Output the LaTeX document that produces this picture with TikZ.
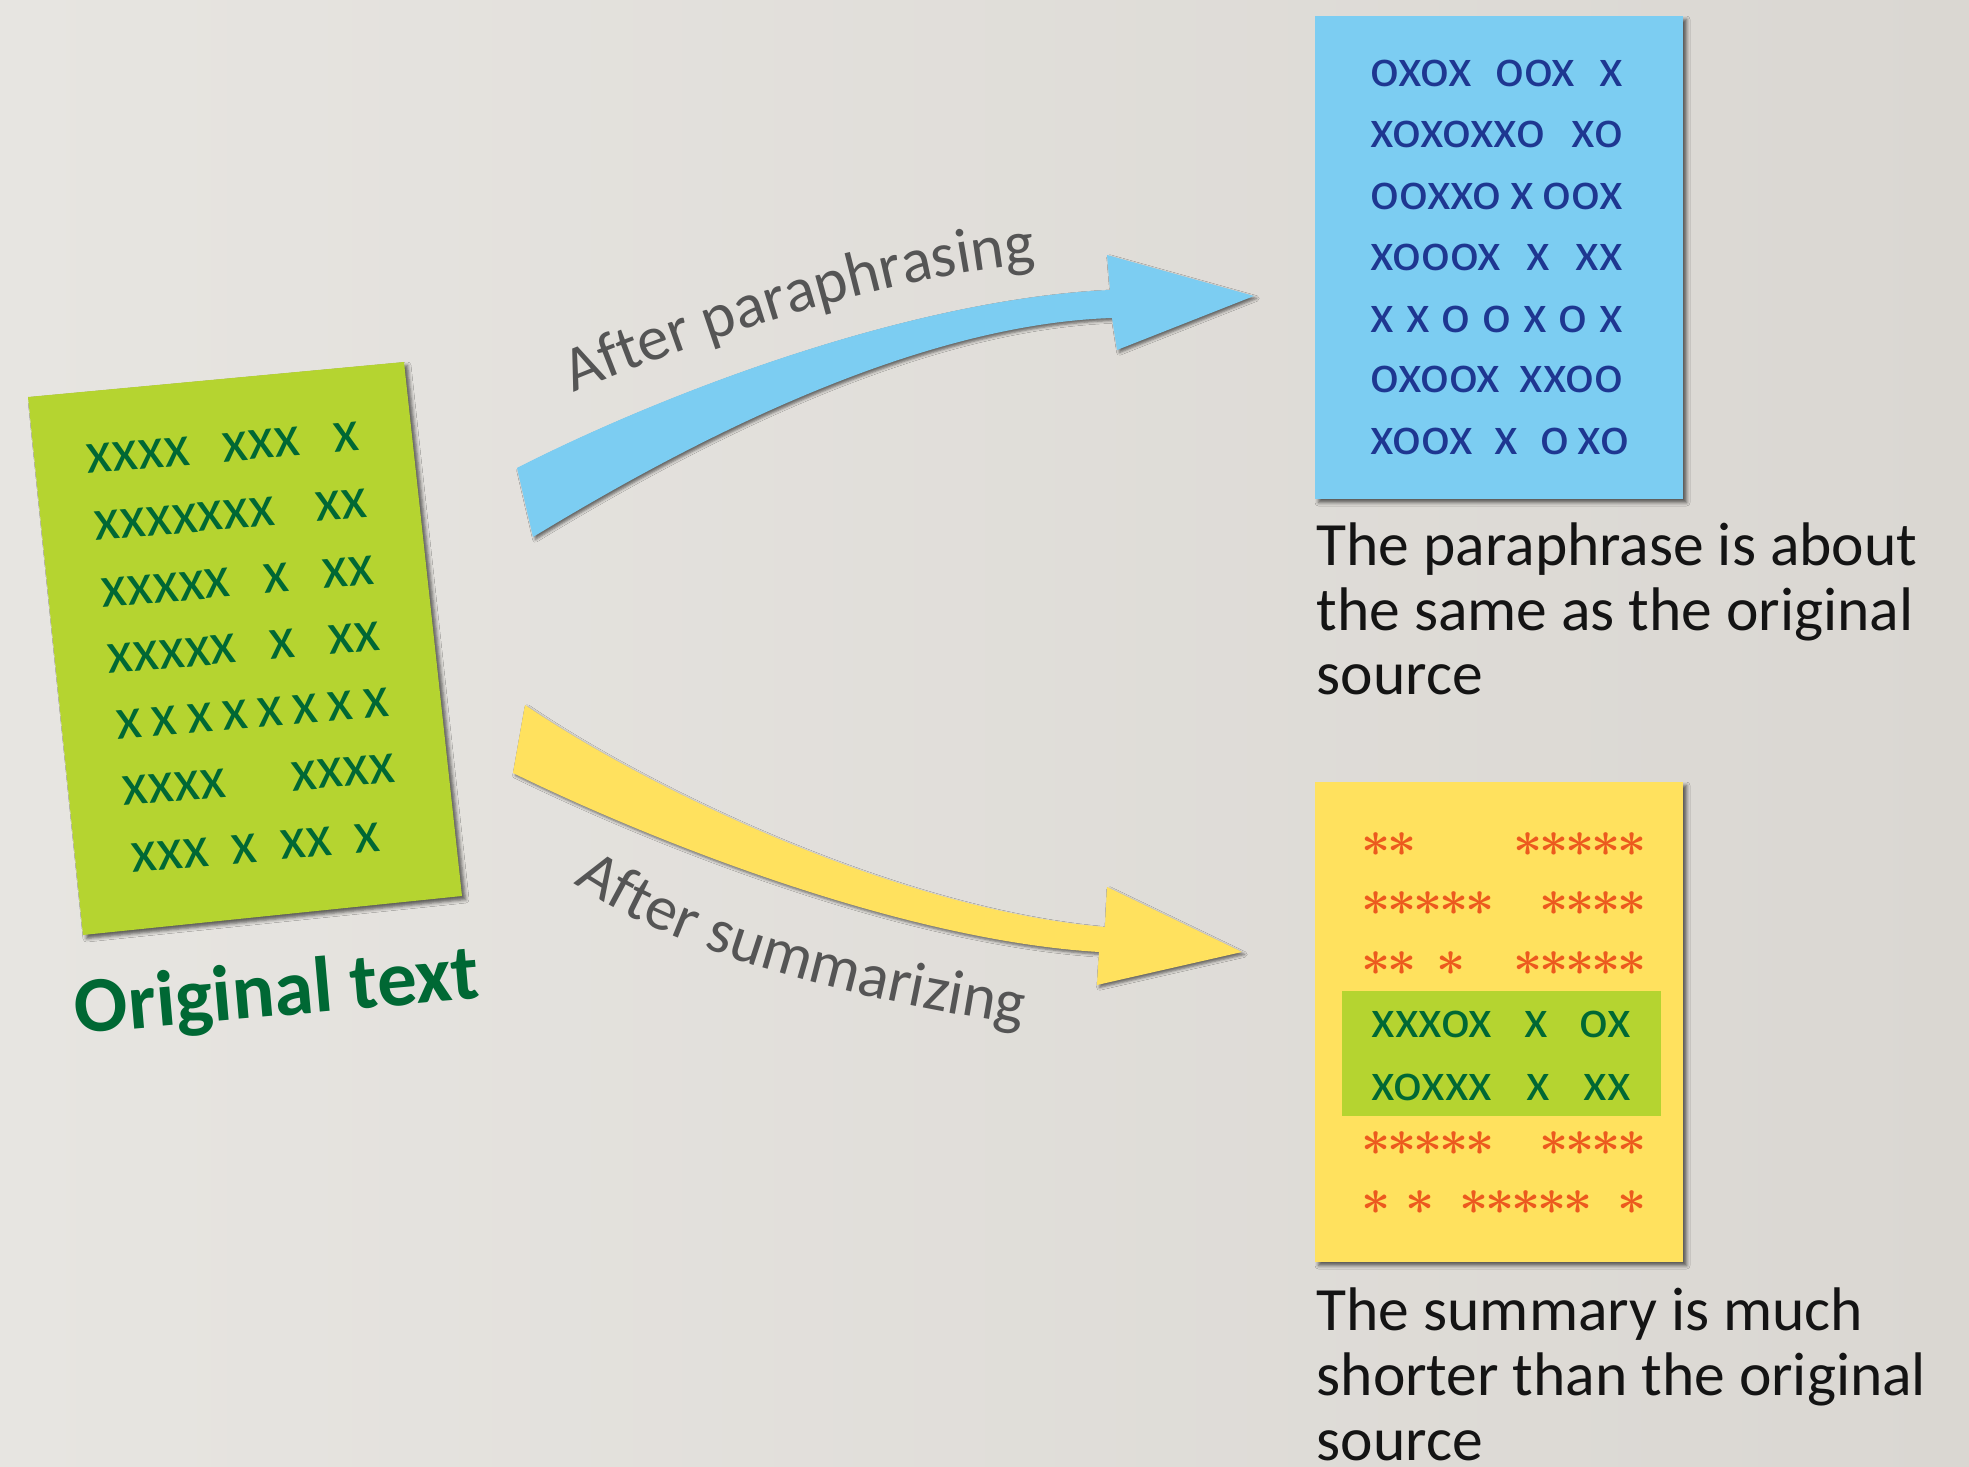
\documentclass[tikz,border=0pt]{standalone}
\usepackage{fontspec}
\setmainfont{Carlito}
\usetikzlibrary{decorations.text,shadows.blur}

\definecolor{bglight}{RGB}{231, 229, 225}
\definecolor{bgdark}{RGB}{218, 215, 210}
\definecolor{originalgreen}{RGB}{181, 212, 48}
\definecolor{inkgreen}{RGB}{0, 104, 52}
\definecolor{paraphraseblue}{RGB}{124, 205, 242}
\definecolor{inkblue}{RGB}{30, 55, 145}
\definecolor{summaryyellow}{RGB}{255, 225, 94}
\definecolor{starorange}{RGB}{236, 90, 30}
\definecolor{labelgray}{RGB}{85, 85, 85}
\definecolor{captionblack}{RGB}{20, 20, 20}

\newcommand{\ostar}{\ensuremath{\mathord{\ast}}\kern-0.9pt}
\newcommand{\labelfont}{\fontsize{18}{18}\selectfont}

\tikzset{
	sheet/.style={blur shadow={shadow xshift=1pt, shadow yshift=-1pt, shadow blur radius=1pt, shadow opacity=60}},
	arrowshape/.style={blur shadow={shadow xshift=0.7pt, shadow yshift=-0.7pt, shadow blur radius=0.8pt, shadow opacity=55}},
	greenline/.style={anchor=base west, inner sep=0pt, rotate=5, text=inkgreen, font=\fontsize{17}{17}\selectfont},
	blueline/.style={anchor=base west, inner sep=0pt, text=inkblue, font=\fontsize{15.5}{15.5}\selectfont},
	starline/.style={anchor=base west, inner sep=0pt, text=starorange, font=\boldmath\fontsize{14}{14}\selectfont},
	keptline/.style={anchor=base west, inner sep=0pt, text=inkgreen, font=\fontsize{15.5}{15.5}\selectfont},
	caption/.style={anchor=base west, inner sep=0pt, align=left, text=captionblack, font=\fontsize{17.5}{18.4}\selectfont},
	arrowlabel/.style={decorate, decoration={text along path, text align=center, text color=labelgray, text={|\labelfont|#1}}}
}

\begin{document}
\begin{tikzpicture}[x=0.01cm, y=-0.01cm]
	\useasboundingbox (0, 0) rectangle (1969, 1467);
	\clip (0, 0) rectangle (1969, 1467);
	\shade [left color=bglight, right color=bgdark] (0, 0) rectangle (1969, 1467);

	\fill [originalgreen, sheet] (28, 397) -- (404, 362) -- (462, 896) -- (83, 935) -- cycle;
	\node [greenline] (orig1) at (87, 474) {\makebox[77.7pt]{xxxx\hfill xxx\hfill x}};
	\node [greenline] (orig2) at (95, 541) {\makebox[77.7pt]{xxxxxxx\hfill xx}};
	\node [greenline] (orig3) at (102, 608) {\makebox[77.7pt]{xxxxx\hfill x\hfill xx}};
	\node [greenline] (orig4) at (108, 674) {\makebox[77.7pt]{xxxxx\hfill x\hfill xx}};
	\node [greenline] (orig5) at (117, 740) {\makebox[77.7pt]{x\hfill x\hfill x\hfill x\hfill x\hfill x\hfill x\hfill x}};
	\node [greenline] (orig6) at (123, 806) {\makebox[77.7pt]{xxxx\hfill xxxx}};
	\node [greenline] (orig7) at (132, 873) {\makebox[71.1pt]{xxx\hfill x\hfill xx\hfill x}};
	\node [anchor=base, inner sep=0pt, rotate=5, text=inkgreen, font=\fontsize{22.5}{22.5}\selectfont\bfseries] (origtitle) at (279, 1016) {Original text};

	\fill [paraphraseblue, sheet] (1315, 16) rectangle (1683, 499);
	\node [blueline] (para1) at (1370, 87) {\makebox[71.7pt]{oxox\hfill oox\hfill x}};
	\node [blueline] (para2) at (1370, 148) {\makebox[71.7pt]{xoxoxxo\hfill xo}};
	\node [blueline] (para3) at (1370, 210) {\makebox[71.7pt]{ooxxo\hfill x\hfill oox}};
	\node [blueline] (para4) at (1370, 271) {\makebox[71.7pt]{xooox\hfill x\hfill xx}};
	\node [blueline] (para5) at (1370, 333) {\makebox[71.7pt]{x\hfill x\hfill o\hfill o\hfill x\hfill o\hfill x}};
	\node [blueline] (para6) at (1370, 393) {\makebox[71.7pt]{oxoox\hfill xxoo}};
	\node [blueline] (para7) at (1370, 455) {\makebox[73.4pt]{xoox\hfill x\hfill o\,xo}};
	\node [caption] (paracap) at (1316, 695) {The paraphrase is about\\the same as the original\\source};

	\fill [summaryyellow, sheet] (1315, 782) rectangle (1683, 1262);
	\fill [originalgreen] (1342, 991) rectangle (1661, 1116);
	\node [starline] (summ1) at (1361, 856) {\makebox[80.2pt]{\ostar\ostar\hfill\ostar\ostar\ostar\ostar\ostar}};
	\node [starline] (summ2) at (1361, 915) {\makebox[80.2pt]{\ostar\ostar\ostar\ostar\ostar\hfill\ostar\ostar\ostar\ostar}};
	\node [starline] (summ3) at (1361, 975) {\makebox[80.2pt]{\ostar\ostar\hspace{6.5pt}\ostar\hfill\ostar\ostar\ostar\ostar\ostar}};
	\node [keptline] (summ4) at (1371, 1037) {\makebox[73.7pt]{xxxox\hfill x\hfill ox}};
	\node [keptline] (summ5) at (1371, 1100) {\makebox[73.7pt]{xoxxx\hfill x\hfill xx}};
	\node [starline] (summ6) at (1361, 1155) {\makebox[80.2pt]{\ostar\ostar\ostar\ostar\ostar\hfill\ostar\ostar\ostar\ostar}};
	\node [starline] (summ7) at (1361, 1214) {\makebox[80.2pt]{\ostar\hspace{5pt}\ostar\hfill\ostar\ostar\ostar\ostar\ostar\hfill\ostar}};
	\node [caption] (summcap) at (1316, 1460) {The summary is much\\shorter than the original\\source};

	\fill [paraphraseblue, arrowshape] (517, 468) .. controls (650, 400) and (900, 300) .. (1110, 290) -- (1107, 255) -- (1254, 296) -- (1117, 350) -- (1112, 318) .. controls (900, 325) and (660, 460) .. (533, 537) -- cycle;
	\path [arrowlabel={After paraphrasing}] (560, 398) .. controls (680, 348) and (880, 275) .. (1050, 262);

	\fill [summaryyellow, arrowshape] (525, 705) .. controls (650, 790) and (900, 910) .. (1105, 927) -- (1107, 887) -- (1242, 952) -- (1097, 985) -- (1099, 952) .. controls (900, 940) and (650, 840) .. (513, 773) -- cycle;
	\path [arrowlabel={After summarizing}] (555, 870) .. controls (650, 945) and (840, 1000) .. (1045, 1028);
\end{tikzpicture}
\end{document}
